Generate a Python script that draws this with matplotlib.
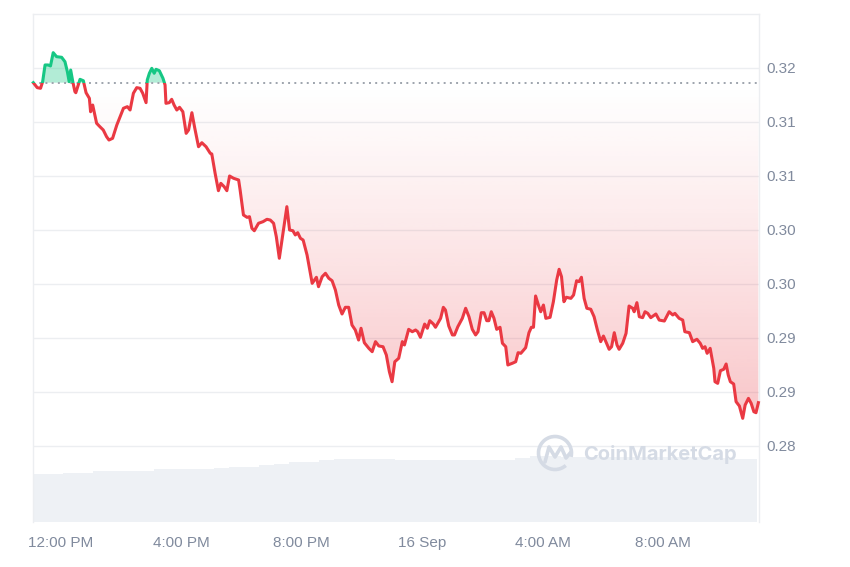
import numpy as np
import matplotlib
matplotlib.use("Agg")
import matplotlib.pyplot as plt
from matplotlib.patches import Rectangle, Arc
from matplotlib.path import Path
from matplotlib.patches import PathPatch

# ---------------- data ----------------
# time in hours since 15 Sep 00:00 ; price in USD
hours = [11.10, 11.23, 11.34, 11.41, 11.49, 11.59, 11.67, 11.76, 11.87, 12.04,
         12.15, 12.23, 12.29, 12.34, 12.41, 12.48, 12.51, 12.65, 12.76, 12.85,
         12.96, 13.00, 13.07, 13.20, 13.31, 13.42, 13.53, 13.61, 13.73, 13.87,
         13.98, 14.09, 14.22, 14.31, 14.42, 14.53, 14.64, 14.73, 14.84, 14.88,
         14.95, 15.03, 15.11, 15.17, 15.28, 15.40, 15.47, 15.50, 15.61, 15.69,
         15.77, 15.86, 15.95, 16.06, 16.17, 16.25, 16.36, 16.45, 16.58, 16.69,
         16.83, 16.97, 17.02, 17.13, 17.24, 17.32, 17.43, 17.52, 17.61, 17.74,
         17.91, 17.96, 18.07, 18.19, 18.27, 18.35, 18.43, 18.57, 18.72, 18.85,
         18.96, 19.07, 19.16, 19.26, 19.38, 19.51, 19.60, 19.71, 19.79, 19.87,
         19.96, 20.05, 20.18, 20.35, 20.49, 20.56, 20.68, 20.79, 20.90, 21.01,
         21.12, 21.23, 21.34, 21.45, 21.56, 21.67, 21.78, 21.89, 21.97, 22.08,
         22.23, 22.34, 22.45, 22.56, 22.70, 22.81, 22.91, 23.00, 23.09, 23.22,
         23.34, 23.41, 23.55, 23.67, 23.78, 23.85, 23.94, 24.08, 24.17, 24.25,
         24.37, 24.44, 24.61, 24.70, 24.77, 24.88, 25.00, 25.07, 25.18, 25.33,
         25.44, 25.55, 25.66, 25.77, 25.85, 25.96, 26.05, 26.14, 26.21, 26.29,
         26.38, 26.47, 26.58, 26.66, 26.77, 26.84, 26.99, 27.10, 27.18, 27.27,
         27.43, 27.54, 27.62, 27.69, 27.76, 27.87, 27.93, 28.02, 28.10, 28.24,
         28.35, 28.46, 28.54, 28.62, 28.70, 28.78, 28.93, 29.02, 29.12, 29.20,
         29.28, 29.37, 29.46, 29.59, 29.70, 29.81, 29.92, 30.01, 30.09, 30.20,
         30.28, 30.37, 30.46, 30.53, 30.65, 30.76, 30.86, 30.98, 31.03, 31.12,
         31.20, 31.31, 31.39, 31.48, 31.58, 31.75, 31.86, 32.03, 32.19, 32.31,
         32.38, 32.52, 32.64, 32.71, 32.86, 32.97, 33.11, 33.22, 33.30, 33.38,
         33.45, 33.55, 33.67, 33.71, 33.80, 33.89, 34.00, 34.08, 34.15, 34.22,
         34.33, 34.41, 34.52, 34.63, 34.71, 34.82, 34.91, 35.00, 35.07, 35.15]

prices = [0.31864, 0.31818, 0.31812, 0.31873, 0.32028, 0.32028, 0.32019, 0.32142, 0.32105, 0.32099,
          0.32058, 0.31966, 0.31873, 0.31981, 0.31873, 0.31781, 0.31771, 0.31895, 0.31882, 0.31771,
          0.31719, 0.31595, 0.31657, 0.31488, 0.31456, 0.31426, 0.31364, 0.31333, 0.31349, 0.31472,
          0.31549, 0.31627, 0.31642, 0.31611, 0.31766, 0.31818, 0.31812, 0.31766, 0.31679, 0.31889,
          0.31951, 0.31997, 0.31951, 0.31988, 0.31975, 0.31905, 0.31843, 0.31673, 0.31679, 0.31710,
          0.31657, 0.31611, 0.31636, 0.31595, 0.31395, 0.31426, 0.31586, 0.31451, 0.31271, 0.31308,
          0.31271, 0.31210, 0.31204, 0.31025, 0.30864, 0.30932, 0.30901, 0.30864, 0.31000, 0.30979,
          0.30963, 0.30870, 0.30639, 0.30617, 0.30623, 0.30516, 0.30493, 0.30562, 0.30577, 0.30599,
          0.30592, 0.30562, 0.30438, 0.30238, 0.30469, 0.30716, 0.30500, 0.30493, 0.30454, 0.30475,
          0.30423, 0.30407, 0.30268, 0.30006, 0.30062, 0.29975, 0.30067, 0.30099, 0.30053, 0.30030,
          0.29944, 0.29805, 0.29722, 0.29784, 0.29784, 0.29620, 0.29574, 0.29481, 0.29590, 0.29456,
          0.29404, 0.29373, 0.29466, 0.29426, 0.29419, 0.29342, 0.29188, 0.29095, 0.29280, 0.29312,
          0.29466, 0.29435, 0.29580, 0.29558, 0.29574, 0.29558, 0.29506, 0.29629, 0.29590, 0.29660,
          0.29629, 0.29599, 0.29682, 0.29784, 0.29759, 0.29611, 0.29528, 0.29528, 0.29604, 0.29682,
          0.29775, 0.29697, 0.29580, 0.29528, 0.29558, 0.29734, 0.29734, 0.29660, 0.29660, 0.29743,
          0.29682, 0.29580, 0.29599, 0.29451, 0.29419, 0.29250, 0.29266, 0.29280, 0.29364, 0.29358,
          0.29410, 0.29549, 0.29599, 0.29599, 0.29889, 0.29790, 0.29743, 0.29805, 0.29682, 0.29691,
          0.29836, 0.30037, 0.30136, 0.30067, 0.29836, 0.29877, 0.29867, 0.29898, 0.30030, 0.30021,
          0.30062, 0.29867, 0.29775, 0.29766, 0.29697, 0.29574, 0.29466, 0.29518, 0.29466, 0.29395,
          0.29419, 0.29549, 0.29435, 0.29395, 0.29451, 0.29543, 0.29796, 0.29775, 0.29743, 0.29827,
          0.29697, 0.29688, 0.29743, 0.29728, 0.29688, 0.29722, 0.29666, 0.29657, 0.29743, 0.29713,
          0.29728, 0.29682, 0.29666, 0.29558, 0.29549, 0.29466, 0.29488, 0.29451, 0.29404, 0.29419,
          0.29358, 0.29404, 0.29219, 0.29095, 0.29080, 0.29197, 0.29210, 0.29259, 0.29157, 0.29095,
          0.29074, 0.28910, 0.28870, 0.28756, 0.28879, 0.28941, 0.28895, 0.28817, 0.28808, 0.28901]

# half-hourly volume (millions, arbitrary scale)
volume = [4.80, 4.85, 4.93, 4.93, 5.10, 5.10, 5.10, 5.15, 5.27, 5.27,
          5.27, 5.27, 5.37, 5.50, 5.55, 5.67, 5.80, 6.00, 6.05, 6.23,
          6.27, 6.27, 6.27, 6.27, 6.17, 6.20, 6.20, 6.25, 6.25, 6.25,
          6.25, 6.25, 6.45, 6.60, 6.60, 6.55, 6.55, 6.55, 6.55, 6.55,
          6.55, 6.55, 6.55, 6.50, 6.50, 6.40, 6.30, 6.27]

xtick_hours = [12, 16, 20, 24, 28, 32]
xtick_labels = ["12:00 PM", "4:00 PM", "8:00 PM", "16 Sep", "4:00 AM", "8:00 AM"]
ytick_values = [0.285, 0.290, 0.295, 0.300, 0.305, 0.310, 0.315, 0.320]
ytick_labels = ["0.28", "0.29", "0.29", "0.30", "0.30", "0.31", "0.31", "0.32"]

# ---------------- style ----------------
RED = "#ea3943"
GREEN = "#16c784"
GRID = "#eceef1"
LABEL = "#808a9d"
XLIM = (11.09, 35.17)
YLIM = (0.27796, 0.325)
VOL_TOP = 50.8

hours = np.array(hours)
prices = np.array(prices)
base = prices[0]

fig = plt.figure(figsize=(8.5, 5.67), dpi=100)
rect = [33 / 850, 1 - 522 / 567, (759 - 33) / 850, (522 - 14) / 567]

# volume axes (behind)
axv = fig.add_axes(rect, zorder=0)
vx = XLIM[0] + 0.25 + 0.5 * np.arange(len(volume))
axv.bar(vx, volume, width=0.5, color="#eef1f5", linewidth=0)
axv.set_xlim(*XLIM)
axv.set_ylim(0, VOL_TOP)
axv.axis("off")

# price axes
ax = fig.add_axes(rect, zorder=1)
ax.patch.set_visible(False)

for v in ytick_values:
    ax.axhline(v, color=GRID, lw=1, zorder=0)

# green fill above baseline
ax.fill_between(hours, prices, base, where=prices >= base, interpolate=True,
                color=GREEN, alpha=0.33, lw=0, zorder=1)

# red gradient fill below baseline
poly = ax.fill_between(hours, prices, base, facecolor="none", lw=0)
path = poly.get_paths()[0]
N = 256
ylo = YLIM[0]
ys = ylo + (np.arange(N) + 0.5) / N * (base - ylo)
t = np.clip((base - ys) / (base - 0.2875), 0, None)
alpha = 0.29 * t ** 1.15
grad = np.zeros((N, 1, 4))
grad[..., 0] = 234 / 255
grad[..., 1] = 57 / 255
grad[..., 2] = 67 / 255
grad[:, 0, 3] = alpha
im = ax.imshow(grad, extent=[XLIM[0], XLIM[1], ylo, base], origin="lower",
               aspect="auto", zorder=1, interpolation="bilinear")
im.set_clip_path(path, transform=ax.transData)

# baseline dotted
ax.axhline(base, color="#9ea4ad", lw=1.4, ls=(0, (1, 2.2)), zorder=2)

# line in two colours
above = Rectangle((XLIM[0] - 1, base), XLIM[1] - XLIM[0] + 2, 1, transform=ax.transData)
below = Rectangle((XLIM[0] - 1, base - 1), XLIM[1] - XLIM[0] + 2, 1, transform=ax.transData)
lg, = ax.plot(hours, prices, color=GREEN, lw=2.2, zorder=3, solid_joinstyle="round")
lg.set_clip_path(above)
lr, = ax.plot(hours, prices, color=RED, lw=2.2, zorder=3, solid_joinstyle="round")
lr.set_clip_path(below)

ax.set_xlim(*XLIM)
ax.set_ylim(*YLIM)

ax.set_xticks(xtick_hours)
ax.set_xticklabels(xtick_labels)
ax.set_yticks(ytick_values)
ax.set_yticklabels(ytick_labels)
ax.yaxis.tick_right()
ax.tick_params(axis="both", length=0, labelcolor=LABEL, labelsize=11)
ax.tick_params(axis="x", pad=10)
ax.tick_params(axis="y", pad=5)
for lab in ax.get_xticklabels() + ax.get_yticklabels():
    lab.set_fontfamily(["Liberation Sans", "DejaVu Sans"])

for s in ["top", "left", "right"]:
    ax.spines[s].set_color(GRID)
    ax.spines[s].set_linewidth(1)
ax.spines["bottom"].set_visible(False)

# watermark
wm = "#d5dbe5"
fig.text(583 / 850, 1 - 455 / 567, "CoinMarketCap", ha="left", va="center",
         fontsize=14.5, fontweight="bold", color=wm, family=["Inter", "DejaVu Sans"],
         zorder=5)
cx, cy = 555 / 850, 1 - 453 / 567
fig.add_artist(Arc((cx, cy), 33 / 850, 33 / 567, theta1=-20, theta2=300,
                   transform=fig.transFigure, color=wm, lw=2.6, zorder=5))
mpath = Path([(545 / 850, 1 - 462 / 567), (549 / 850, 1 - 447 / 567),
              (555 / 850, 1 - 457 / 567), (561 / 850, 1 - 447 / 567),
              (566 / 850, 1 - 458 / 567), (571 / 850, 1 - 452 / 567)])
fig.add_artist(PathPatch(mpath, transform=fig.transFigure, fill=False,
                         edgecolor=wm, lw=2.6, zorder=5, capstyle="round",
                         joinstyle="round"))

fig.savefig("out.png", dpi=100)
